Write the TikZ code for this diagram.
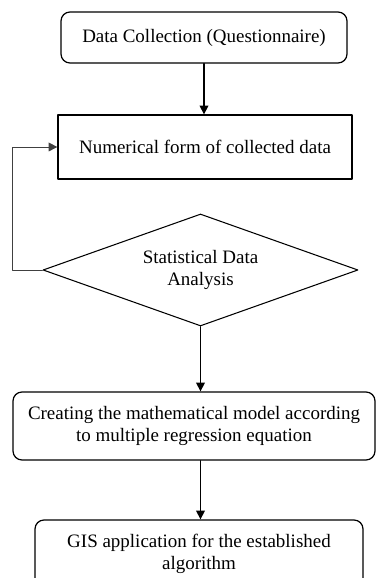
\documentclass[tikz,border=0pt]{standalone}
\usepackage{fontspec}
\setmainfont{Liberation Serif}
\usetikzlibrary{shapes.geometric,arrows.meta}
\begin{document}
\begin{tikzpicture}[x=1cm,y=1cm,line cap=round,line join=round,
  font=\fontsize{10.8}{12.6}\selectfont,
  flowline/.style={line width=0.6pt,black},
  flowarrow/.style={flowline,-{Triangle[length=5pt,width=5pt]}},
  loopline/.style={line width=0.5pt,black!75,-{Triangle[length=5pt,width=5pt]}},
  plainbox/.style={draw,line width=0.7pt,align=center,inner sep=0pt},
  roundbox/.style={plainbox,rounded corners=0.18cm},
  decision/.style={diamond,draw,line width=0.6pt,align=center,inner sep=0pt,aspect=2.8}]
\useasboundingbox (0,0) rectangle (7.52,11.56);
\clip (0,0) rectangle (7.52,11.56);

\node[roundbox,minimum width=5.72cm,minimum height=1.02cm] (collect) at (4.08,10.81)
  {Data Collection (Questionnaire)};
\node[plainbox,minimum width=5.88cm,minimum height=1.28cm] (numeric) at (4.10,8.62)
  {Numerical form of collected data};
\node[decision,minimum width=6.30cm,minimum height=2.24cm] (stats) at (4.01,6.16)
  {Statistical Data\\Analysis};
\node[roundbox,minimum width=7.24cm,minimum height=1.36cm] (model) at (3.88,3.04)
  {Creating the mathematical model according\\to multiple regression equation};
\node[roundbox,minimum width=6.56cm,minimum height=1.34cm] (gis) at (3.98,0.49)
  {GIS application for the established\\algorithm};

\draw[flowarrow] (collect.south) -- (collect.south |- numeric.north);
\draw[loopline] (stats.west) -- ++(-0.60,0) |- (numeric.west);
\draw[flowarrow] (stats.south) -- (stats.south |- model.north);
\draw[flowarrow] (model.south -| stats.south) -- (gis.north -| stats.south);
\end{tikzpicture}
\end{document}
